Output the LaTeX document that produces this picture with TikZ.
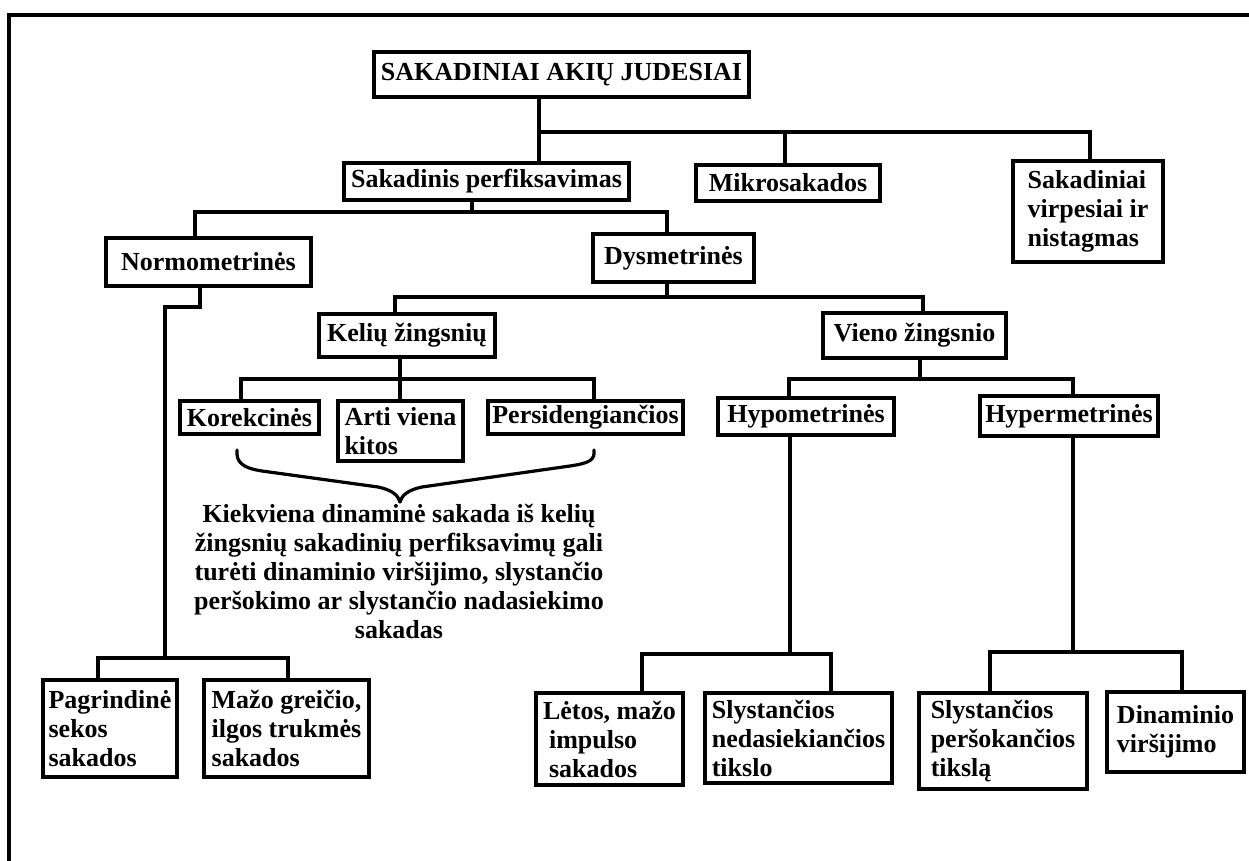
\documentclass[tikz,border=0pt]{standalone}
\usepackage{fontspec}
\setmainfont{Liberation Serif}
\tikzset{
  box/.style={draw, line width=1.75pt, inner sep=0pt, fill=white,
    font=\fontsize{13pt}{14.5pt}\selectfont\bfseries},
  lbox/.style={box, align=left},
  conn/.style={line width=1.75pt, line cap=rect},
}
\begin{document}
\begin{tikzpicture}[x=0.5pt,y=-0.5pt]
\fill[white] (0,0) rectangle (1249,861);
\useasboundingbox (0,0) rectangle (1249,861);
% frame
\draw[line width=2pt] (9,861) -- (9,15) -- (1249,15);

% nodes
\node[box, minimum width=187.5pt, minimum height=22.5pt] (title) at (561.5,74.5) {SAKADINIAI AKIŲ JUDESIAI};
\node[box, minimum width=142.5pt, minimum height=18.5pt] (sak) at (486.5,181.5) {Sakadinis perfiksavimas};
\node[box, minimum width=92pt, minimum height=18pt] (mikro) at (788,183) {Mikrosakados};
\node[lbox, minimum width=75pt, minimum height=50.5pt] (virp) at (1088,211.5) {Sakadiniai\\virpesiai ir\hspace*{13pt}\\nistagmas};
\node[box, minimum width=102.5pt, minimum height=24pt] (norm) at (208.5,262) {Normometrinės};
\node[box, minimum width=80.5pt, minimum height=24pt] (dys) at (673.5,258) {Dysmetrinės};
\node[box, minimum width=88pt, minimum height=21.5pt] (kel) at (407,335.5) {Kelių žingsnių};
\node[box, minimum width=91.5pt, minimum height=22.5pt] (vien) at (914.5,335.5) {Vieno žingsnio};
\node[box, minimum width=69.5pt, minimum height=16.5pt] (kor) at (249.5,417.5) {Korekcinės};
\node[lbox, minimum width=62.5pt, minimum height=30pt] (arti) at (400.5,431) {Arti viena\\kitos};
\node[box, minimum width=97.5pt, minimum height=16.5pt] (pers) at (585.5,417.5) {Persidengiančios};
\node[box, minimum width=88pt, minimum height=18.5pt] (hypo) at (806,416.5) {Hypometrinės};
\node[box, minimum width=89pt, minimum height=20pt] (hyper) at (1069,416) {Hypermetrinės};
\node[lbox, minimum width=67pt, minimum height=48.5pt] (pag) at (110,728.5) {Pagrindinė\\sekos\\sakados};
\node[lbox, minimum width=82.5pt, minimum height=48.5pt] (mazo) at (286.5,728.5) {Mažo greičio,\\ilgos trukmės\\sakados};
\node[lbox, minimum width=73.5pt, minimum height=46pt] (letos) at (609.5,739) {Lėtos, mažo\\\hspace*{3pt}impulso\\\hspace*{3pt}sakados};
\node[lbox, minimum width=93.5pt, minimum height=45pt] (sly1) at (798.5,738) {Slystančios\\nedasiekiančios\\tikslo};
\node[lbox, minimum width=84pt, minimum height=48pt] (sly2) at (1003,741) {Slystančios\\peršokančios\\tikslą};
\node[lbox, minimum width=68.5pt, minimum height=40pt] (dinam) at (1175.5,732) {Dinaminio\\viršijimo};

\node[align=center, inner sep=0pt, font=\fontsize{13pt}{14.5pt}\selectfont\bfseries] (note) at (399,571)
  {Kiekviena dinaminė sakada iš kelių\\žingsnių sakadinių perfiksavimų gali\\turėti dinaminio viršijimo, slystančio\\peršokimo ar slystančio nadasiekimo\\sakadas};

% junction coordinates
\coordinate (b1a) at (539,132);
\coordinate (b1m) at (785,132);
\coordinate (b1b) at (1090,132);
\coordinate (s2) at (472,212);
\coordinate (b2a) at (195,212);
\coordinate (b2b) at (667,212);
\coordinate (n1) at (200,307);
\coordinate (n2) at (165,307);
\coordinate (n3) at (165,658);
\coordinate (b3a) at (98,658);
\coordinate (b3b) at (288,658);
\coordinate (b4s) at (667,297);
\coordinate (b4a) at (395,297);
\coordinate (b4b) at (923,297);
\coordinate (b5s) at (400,379);
\coordinate (b5a) at (241,379);
\coordinate (b5b) at (594,379);
\coordinate (b6s) at (920,379);
\coordinate (b6a) at (789,379);
\coordinate (b6b) at (1073,379);
\coordinate (b7s) at (790,654);
\coordinate (b7a) at (642,654);
\coordinate (b7b) at (831,654);
\coordinate (b8s) at (1073,652);
\coordinate (b8a) at (990,652);
\coordinate (b8b) at (1182,652);

% connectors
\draw[conn] (b1a |- title.south) -- (b1a) -- (b1b) -- (b1b |- virp.north);
\draw[conn] (b1a) -- (b1a |- sak.north);
\draw[conn] (b1m) -- (b1m |- mikro.north);

\draw[conn] (s2 |- sak.south) -- (s2);
\draw[conn] (b2a |- norm.north) -- (b2a) -- (b2b) -- (b2b |- dys.north);

\draw[conn] (n1 |- norm.south) -- (n1) -- (n2) -- (n3);
\draw[conn] (b3a |- pag.north) -- (b3a) -- (b3b) -- (b3b |- mazo.north);

\draw[conn] (b4s |- dys.south) -- (b4s);
\draw[conn] (b4a |- kel.north) -- (b4a) -- (b4b) -- (b4b |- vien.north);

\draw[conn] (b5s |- kel.south) -- (b5s) -- (b5s |- arti.north);
\draw[conn] (b5a |- kor.north) -- (b5a) -- (b5b) -- (b5b |- pers.north);

\draw[conn] (b6s |- vien.south) -- (b6s);
\draw[conn] (b6a |- hypo.north) -- (b6a) -- (b6b) -- (b6b |- hyper.north);

\draw[conn] (b7s |- hypo.south) -- (b7s);
\draw[conn] (b7a |- letos.north) -- (b7a) -- (b7b) -- (b7b |- sly1.north);

\draw[conn] (b8s |- hyper.south) -- (b8s);
\draw[conn] (b8a |- sly2.north) -- (b8a) -- (b8b) -- (b8b |- dinam.north);

% brace
\draw[line width=1.6pt, line cap=round, line join=round]
  (237,450) .. controls (236,462) and (242,468) .. (262,471) -- (378,487)
  .. controls (392,490) and (398,495) .. (400,502)
  .. controls (402,495) and (408,490) .. (422,487) -- (570,466)
  .. controls (590,463) and (595,460) .. (594,450);
\end{tikzpicture}
\end{document}
